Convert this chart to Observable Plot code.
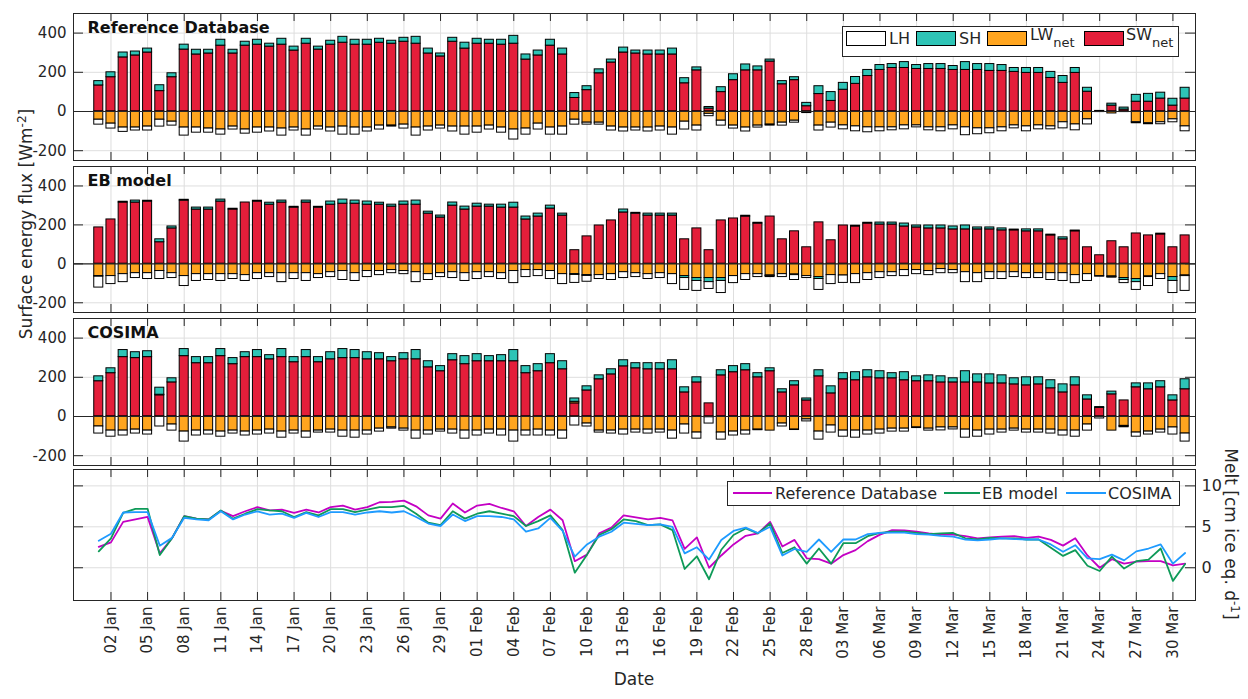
<!DOCTYPE html>
<html><head><meta charset="utf-8">
<script src="https://cdn.jsdelivr.net/npm/d3@7"></script>
<script src="https://cdn.jsdelivr.net/npm/@observablehq/plot@0.6"></script>
<style>
body{margin:0;background:#fff;font-family:"DejaVu Sans",sans-serif;color:#262626;}
#wrap{position:relative;width:1248px;height:699px;overflow:hidden;background:#fff;}
.panel{position:absolute;left:0;}
.abs{position:absolute;white-space:nowrap;line-height:1;}
.sw{position:absolute;border:1px solid #000;box-sizing:border-box;}
.ln{position:absolute;height:0;border-top:2px solid;}
</style></head><body><div id="wrap"></div>
<script>
// ---------- data ----------
const days = d3.range(90); // 0 = 01 Jan ... 89 = 31 Mar
const tickDays = d3.range(1, 89, 3);
const tickLabels = ["02 Jan","05 Jan","08 Jan","11 Jan","14 Jan","17 Jan","20 Jan","23 Jan","26 Jan","29 Jan",
  "01 Feb","04 Feb","07 Feb","10 Feb","13 Feb","16 Feb","19 Feb","22 Feb","25 Feb","28 Feb",
  "03 Mar","06 Mar","09 Mar","12 Mar","15 Mar","18 Mar","21 Mar","24 Mar","27 Mar","30 Mar"];
const fluxTicks = [-200, 0, 200, 400];
const meltTicks = [0, 5, 10];
const components = ["SW", "LW", "SH", "LH"];
const compColors = ["#e41e3a", "#ffa51f", "#2ec4b6", "#ffffff"];
const panelTitles = ["Reference Database", "EB model", "COSIMA"];

const SW1 = [133,175,276,286,301,104,175,316,291,296, 336,296,336,341,331,341,311,346,316,341, 351,341,341,351,346,356,346,296,281,356, 321,346,346,341,346,265,286,336,291,69, 109,195,250,301,296,291,291,291,144,210, 15,99,160,210,210,255,139,160,27,89, 54,111,141,181,212,222,222,217,217,217, 212,212,212,207,207,202,197,197,171,146, 197,101,3,30,10,50,50,66,30,66];
const SH1 = [22,25,25,20,20,30,20,25,24,19, 30,19,20,25,15,30,20,25,15,20, 30,25,25,20,15,20,35,25,15,20, 30,25,20,25,40,26,25,30,30,25, 20,20,15,25,15,20,20,30,26,15, 8,25,30,30,20,10,16,15,17,40, 45,35,35,31,25,20,30,20,25,25, 20,40,30,35,30,20,25,25,31,35, 25,20,0,10,10,35,40,30,35,55];
const LW1 = [-42,-62,-82,-82,-77,-42,-52,-82,-82,-87, -92,-77,-92,-82,-82,-87,-82,-92,-77,-82, -77,-82,-82,-72,-72,-67,-82,-77,-72,-77, -77,-77,-72,-82,-92,-87,-62,-82,-77,-42, -57,-57,-77,-82,-82,-82,-77,-82,-52,-72, -12,-47,-72,-82,-72,-67,-57,-47,-5,-72, -57,-71,-76,-81,-81,-81,-71,-71,-81,-81, -71,-81,-86,-86,-81,-71,-76,-71,-76,-55, -66,-40,-3,-10,-3,-55,-60,-55,-40,-76];
const LH1 = [-25,-25,-22,-15,-20,-35,-20,-41,-26,-21, -26,-15,-21,-26,-20,-36,-15,-31,-15,-20, -41,-36,-20,-20,-5,-20,-41,-20,-15,-25, -41,-31,-20,-26,-51,-31,-30,-36,-41,-25, -10,-10,-20,-20,-15,-20,-20,-36,-40,-25, -12,-25,-15,-20,-10,-5,-15,-10,-3,-25, -25,-20,-25,-25,-20,-15,-20,-10,-15,-20, -20,-40,-30,-25,-20,-15,-25,-20,-15,-31, -30,-26,0,0,0,-5,-5,-10,-15,-25];

const SW2 = [187,228,315,315,320,111,182,325,279,279, 320,279,315,320,304,315,289,315,289,304, 309,309,304,304,294,304,304,258,238,299, 279,294,294,289,289,228,243,284,248,70, 141,197,223,264,258,248,248,248,126,182, 70,223,233,243,207,243,126,167,85,213, 121,197,192,207,202,202,192,187,182,182, 177,177,177,177,172,172,167,167,146,126, 167,85,44,116,85,156,146,151,85,146];
const SH2 = [-3,0,4,10,4,15,10,4,10,10, 10,4,0,4,10,10,4,10,4,16, 21,16,16,10,10,16,21,10,10,16, 15,15,10,15,25,15,15,15,10,-4, -4,0,0,15,4,10,10,10,-10,-15, -21,-15,0,4,4,-3,0,-3,0,-10, 0,0,4,4,10,10,15,10,15,15, 15,20,10,10,10,4,10,10,4,10, 4,0,0,-3,-10,-16,-3,4,-20,-3];
const LW2 = [-63,-63,-53,-48,-48,-37,-48,-63,-53,-53, -53,-53,-58,-48,-48,-48,-48,-48,-53,-43, -37,-48,-37,-37,-32,-37,-43,-53,-48,-43, -48,-43,-43,-48,-37,-32,-32,-37,-53,-53, -58,-58,-53,-43,-48,-53,-48,-53,-63,-73, -73,-73,-63,-53,-53,-60,-53,-55,-63,-68, -58,-60,-53,-48,-43,-43,-32,-32,-37,-27, -32,-43,-48,-43,-43,-43,-48,-48,-48,-48, -58,-53,-63,-65,-73,-78,-65,-53,-68,-60];
const LH2 = [-56,-41,-41,-25,-30,-41,-25,-51,-35,-30, -35,-25,-30,-30,-20,-46,-30,-40,-20,-25, -46,-40,-31,-21,-16,-16,-51,-30,-20,-30, -40,-35,-25,-30,-62,-36,-31,-41,-51,-41, -30,-20,-30,-30,-20,-25,-25,-51,-61,-51, -35,-62,-36,-30,-15,-5,-15,-25,-10,-56, -46,-38,-46,-35,-30,-20,-31,-21,-21,-21, -16,-51,-46,-35,-35,-25,-25,-25,-35,-40, -41,-35,-3,-3,-16,-40,-46,-25,-62,-76];

const SW3 = [180,221,303,298,303,108,174,308,272,272, 308,267,303,303,292,303,277,303,277,292, 298,298,292,292,282,292,292,251,231,287, 267,282,282,282,282,221,231,272,241,67, 133,190,215,256,246,241,241,241,123,174, 67,210,226,236,200,231,123,159,82,205, 118,190,185,200,195,195,185,180,180,174, 174,174,174,169,169,164,159,164,144,123, 159,87,44,113,82,149,139,149,82,139];
const SH3 = [25,25,36,30,30,36,21,36,31,31, 36,31,25,36,21,41,26,36,26,36, 46,41,36,31,21,31,47,31,26,31, 41,36,26,31,57,36,36,46,41,17, 21,20,26,31,26,31,31,46,26,26, 0,26,31,31,21,15,16,21,10,31, 36,31,41,36,36,26,41,25,30,31, 21,57,41,46,41,31,41,36,41,41, 41,21,4,14,-4,20,30,31,26,51];
const LW3 = [-51,-72,-72,-67,-72,3,-41,-77,-72,-72, -77,-72,-77,-72,-67,-77,-72,-77,-72,-67, -72,-72,-72,-62,-56,-62,-72,-72,-67,-67, -72,-72,-67,-67,-72,-72,-67,-72,-72,8, -36,-72,-72,-67,-67,-67,-67,-72,-41,-82, -4,-82,-77,-72,-67,-72,-36,-67,-15,-77, -46,-72,-72,-72,-67,-62,-62,-56,-62,-56, -56,-67,-72,-67,-67,-62,-67,-67,-67,-72, -72,-41,0,-72,-48,-82,-77,-67,-56,-87];
const LH3 = [-36,-31,-25,-20,-20,-51,-31,-51,-25,-20, -26,-15,-20,-20,-20,-31,-15,-31,-10,-15, -31,-36,-20,-15,-6,-10,-41,-20,-10,-20, -41,-25,-20,-30,-56,-25,-30,-25,-41,-46, -15,-10,-15,-25,-15,-20,-15,-41,-46,-31, -32,-36,-20,-20,-3,0,-15,-2,-10,-41, -36,-31,-36,-20,-20,-15,-15,-3,-10,-15, -10,-41,-31,-25,-15,-10,-15,-15,-20,-25, -31,-31,-10,0,-3,-21,-15,-15,-36,-41];

const meltRef = [2.56,3.1,5.6,5.9,6.2,1.75,3.6,6.3,6.0,5.9, 6.95,6.3,6.9,7.4,7.0,7.1,6.7,7.1,6.75,7.4, 7.6,7.1,7.4,8.0,8.05,8.2,7.5,6.4,6.0,7.85, 6.75,7.6,7.8,7.3,6.9,5.1,6.2,7.1,5.8,0.8, 1.6,4.2,4.9,6.4,6.15,5.9,6.1,5.8,2.3,3.7, 0.0,1.5,2.85,3.9,4.2,5.6,2.6,3.4,1.15,1.05, 0.5,1.55,2.15,3.25,4.05,4.6,4.55,4.4,4.2,4.05, 4.05,3.85,3.6,3.7,3.8,3.85,3.65,3.8,3.4,2.7, 3.6,1.5,0.0,1.05,0.5,0.75,0.8,0.8,0.3,0.5];
const meltEB = [2.0,3.6,6.7,7.2,7.2,1.55,3.6,6.3,6.0,5.9, 7.0,6.0,6.6,7.15,7.0,6.9,6.2,6.8,6.4,7.15, 7.15,6.8,7.1,7.4,7.4,7.55,6.6,5.5,5.2,6.9, 6.0,6.6,6.9,6.6,6.3,5.1,5.7,6.4,4.6,-0.6, 1.6,4.0,4.7,5.9,5.7,5.2,5.3,4.6,-0.15,1.4, -1.4,2.2,4.0,4.8,4.2,5.4,1.8,2.5,0.5,2.35, 0.5,3.0,3.0,3.85,4.25,4.4,4.4,4.25,4.1,4.2, 4.25,3.6,3.45,3.65,3.6,3.6,3.45,3.45,2.45,1.45, 2.15,0.25,-0.4,1.35,-0.1,0.8,1.0,2.35,-1.6,0.45];
const meltCOS = [3.3,4.15,6.75,6.8,6.8,2.7,3.65,6.1,5.9,5.8, 6.9,5.9,6.5,6.9,6.5,6.6,6.1,6.7,6.2,6.8, 6.8,6.5,6.75,6.9,6.75,6.9,6.2,5.4,5.1,6.5, 5.7,6.3,6.3,6.2,5.9,4.4,4.8,6.1,4.5,1.35, 2.85,3.8,4.4,5.5,5.35,5.2,5.3,5.0,1.75,2.5, 1.0,3.4,4.5,4.9,4.25,5.0,1.5,2.3,1.95,3.45, 1.95,3.45,3.45,4.1,4.25,4.3,4.3,4.1,4.05,3.9, 3.8,3.45,3.35,3.45,3.6,3.5,3.45,3.45,2.85,1.95, 2.75,1.15,1.05,1.6,0.9,2.0,2.35,2.85,0.5,1.8];
const meltNames = ["Reference Database", "EB model", "COSIMA"];
const meltColors = ["#c400c4", "#0e9a58", "#1e9bff"];

// ---------- layout ----------
const W = 1248, ML = 73, MR = 53;
const innerW = W - ML - MR;
const xDomain = [-2.07, 89.85];
const panels = [
  {top: 13, h: 147, series: {SW: SW1, LW: LW1, SH: SH1, LH: LH1}, title: panelTitles[0]},
  {top: 166, h: 146, series: {SW: SW2, LW: LW2, SH: SH2, LH: LH2}, title: panelTitles[1]},
  {top: 318, h: 147, series: {SW: SW3, LW: LW3, SH: SH3, LH: LH3}, title: panelTitles[2]}
];
const wrap = document.getElementById("wrap");
const style = {fontFamily: "DejaVu Sans", fontSize: "15px", color: "#262626", background: "transparent", overflow: "visible"};
const gridCol = "#dedede", ink = "#262626";

function stackBars(series) {
  const out = [];
  days.forEach((d, i) => {
    let pos = 0, neg = 0;
    for (const c of components) {
      const v = series[c][i];
      if (!v) continue;
      if (v > 0) { out.push({day: d, comp: c, y1: pos, y2: pos + v}); pos += v; }
      else { out.push({day: d, comp: c, y1: neg, y2: neg + v}); neg += v; }
    }
  });
  return out;
}

function frameMarks(h, yt) {
  return [
    Plot.ruleX(tickDays, {x: d => d, stroke: ink, insetTop: h - 8}),
    Plot.ruleX(tickDays, {x: d => d, stroke: ink, insetBottom: h - 8}),
    Plot.ruleY(yt, {y: d => d, stroke: ink, insetRight: innerW - 10}),
    Plot.ruleY(yt, {y: d => d, stroke: ink, insetLeft: innerW - 10}),
    Plot.frame({stroke: ink, strokeWidth: 1})
  ];
}

panels.forEach(p => {
  const bars = stackBars(p.series);
  const chart = Plot.plot({
    width: W, height: p.h + 2,
    marginLeft: ML, marginRight: MR, marginTop: 1, marginBottom: 1,
    style,
    x: {domain: xDomain, axis: null},
    y: {domain: [-250, 500], axis: null},
    color: {domain: components, range: compColors},
    marks: [
      Plot.gridX(tickDays, {x: d => d, stroke: gridCol, strokeOpacity: 1}),
      Plot.gridY(fluxTicks, {y: d => d, stroke: gridCol, strokeOpacity: 1}),
      Plot.rect(bars, {x1: d => d.day - 0.37, x2: d => d.day + 0.37, y1: "y1", y2: "y2", fill: "comp", stroke: "#000", strokeWidth: 1}),
      Plot.ruleY([0], {stroke: ink, strokeWidth: 1.2}),
      ...frameMarks(p.h, fluxTicks),
      Plot.axisY(fluxTicks, {anchor: "left", tickSize: 0, tickPadding: 7, fontSize: 15, tickFormat: d => String(d), label: null}),
      Plot.text([p.title], {text: d => d, frameAnchor: "top-left", dx: 14, dy: 14, textAnchor: "start", lineAnchor: "middle", fontWeight: "bold", fontSize: 16, fill: "#111"})
    ]
  });
  chart.classList.add("panel");
  chart.style.top = (p.top - 1) + "px";
  wrap.appendChild(chart);
});

// melt panel
const meltData = [];
[meltRef, meltEB, meltCOS].forEach((arr, k) => arr.forEach((v, i) => meltData.push({day: days[i], v, s: meltNames[k]})));
const P4 = {top: 469, h: 131};
const chart4 = Plot.plot({
  width: W, height: P4.h + 1 + 80,
  marginLeft: ML, marginRight: MR, marginTop: 1, marginBottom: 80,
  style,
  x: {domain: xDomain, axis: null},
  y: {domain: [-4, 12], axis: null},
  color: {domain: meltNames, range: meltColors},
  marks: [
    Plot.gridX(tickDays, {x: d => d, stroke: gridCol, strokeOpacity: 1}),
    Plot.gridY(meltTicks, {y: d => d, stroke: gridCol, strokeOpacity: 1}),
    Plot.line(meltData, {x: "day", y: "v", z: "s", stroke: "s", strokeWidth: 1.8}),
    ...frameMarks(P4.h, meltTicks),
    Plot.axisX(tickDays, {anchor: "bottom", tickSize: 0, tickPadding: 6, tickRotate: -90, fontSize: 15, tickFormat: d => tickLabels[tickDays.indexOf(d)], label: null}),
    Plot.axisY(meltTicks, {anchor: "right", tickSize: 0, tickPadding: 6, fontSize: 16, tickFormat: d => String(d), label: null})
  ]
});
chart4.classList.add("panel");
chart4.style.top = (P4.top - 1) + "px";
wrap.appendChild(chart4);

// ---------- text labels ----------
function addDiv(html, css) {
  const el = document.createElement("div");
  el.className = "abs";
  el.innerHTML = html;
  Object.assign(el.style, css);
  wrap.appendChild(el);
  return el;
}
addDiv("Date", {left: "634px", top: "679px", fontSize: "17px", transform: "translate(-50%,-50%)"});
addDiv("Surface energy flux [Wm<sup style='font-size:12px;vertical-align:6px'>-2</sup>]",
  {left: "25px", top: "224px", fontSize: "17px", transform: "translate(-50%,-50%) rotate(-90deg)"});
addDiv("Melt [cm ice eq. d<sup style='font-size:12px;vertical-align:6px'>-1</sup>]",
  {left: "1231px", top: "534px", fontSize: "17px", transform: "translate(-50%,-50%) rotate(90deg)"});

// legend 1 (fluxes)
addDiv("", {left: "842px", top: "26px", width: "337px", height: "31px", border: "1px solid #262626", background: "#fff", boxSizing: "border-box"});
const leg1 = [
  {c: "LH", col: compColors[3], sx: 846, tx: 889},
  {c: "SH", col: compColors[2], sx: 916, tx: 959},
  {c: "LW", col: compColors[1], sx: 987, tx: 1030, sub: "net"},
  {c: "SW", col: compColors[0], sx: 1084, tx: 1126, sub: "net"}
];
leg1.forEach(e => {
  const s = document.createElement("div");
  s.className = "sw";
  Object.assign(s.style, {left: e.sx + "px", top: "31px", width: "40px", height: "15px", background: e.col});
  wrap.appendChild(s);
  if (e.sub) addDiv(e.c + "<span style='font-size:13px;position:relative;top:7px'>" + e.sub + "</span>", {left: e.tx + "px", top: "27px", fontSize: "16px"});
  else addDiv(e.c, {left: e.tx + "px", top: "31px", fontSize: "16px"});
});

// legend 2 (melt)
addDiv("", {left: "727px", top: "481px", width: "453px", height: "25px", border: "1px solid #262626", background: "#fff", boxSizing: "border-box"});
const leg2 = [{lx: 733, lw: 39, tx: 775}, {lx: 944, lw: 36, tx: 982}, {lx: 1066, lw: 40, tx: 1108}];
leg2.forEach((e, k) => {
  const l = document.createElement("div");
  l.className = "ln";
  Object.assign(l.style, {left: e.lx + "px", top: "492px", width: e.lw + "px", borderTopColor: meltColors[k]});
  wrap.appendChild(l);
  addDiv(meltNames[k], {left: e.tx + "px", top: "486px", fontSize: "16px"});
});
</script></body></html>
